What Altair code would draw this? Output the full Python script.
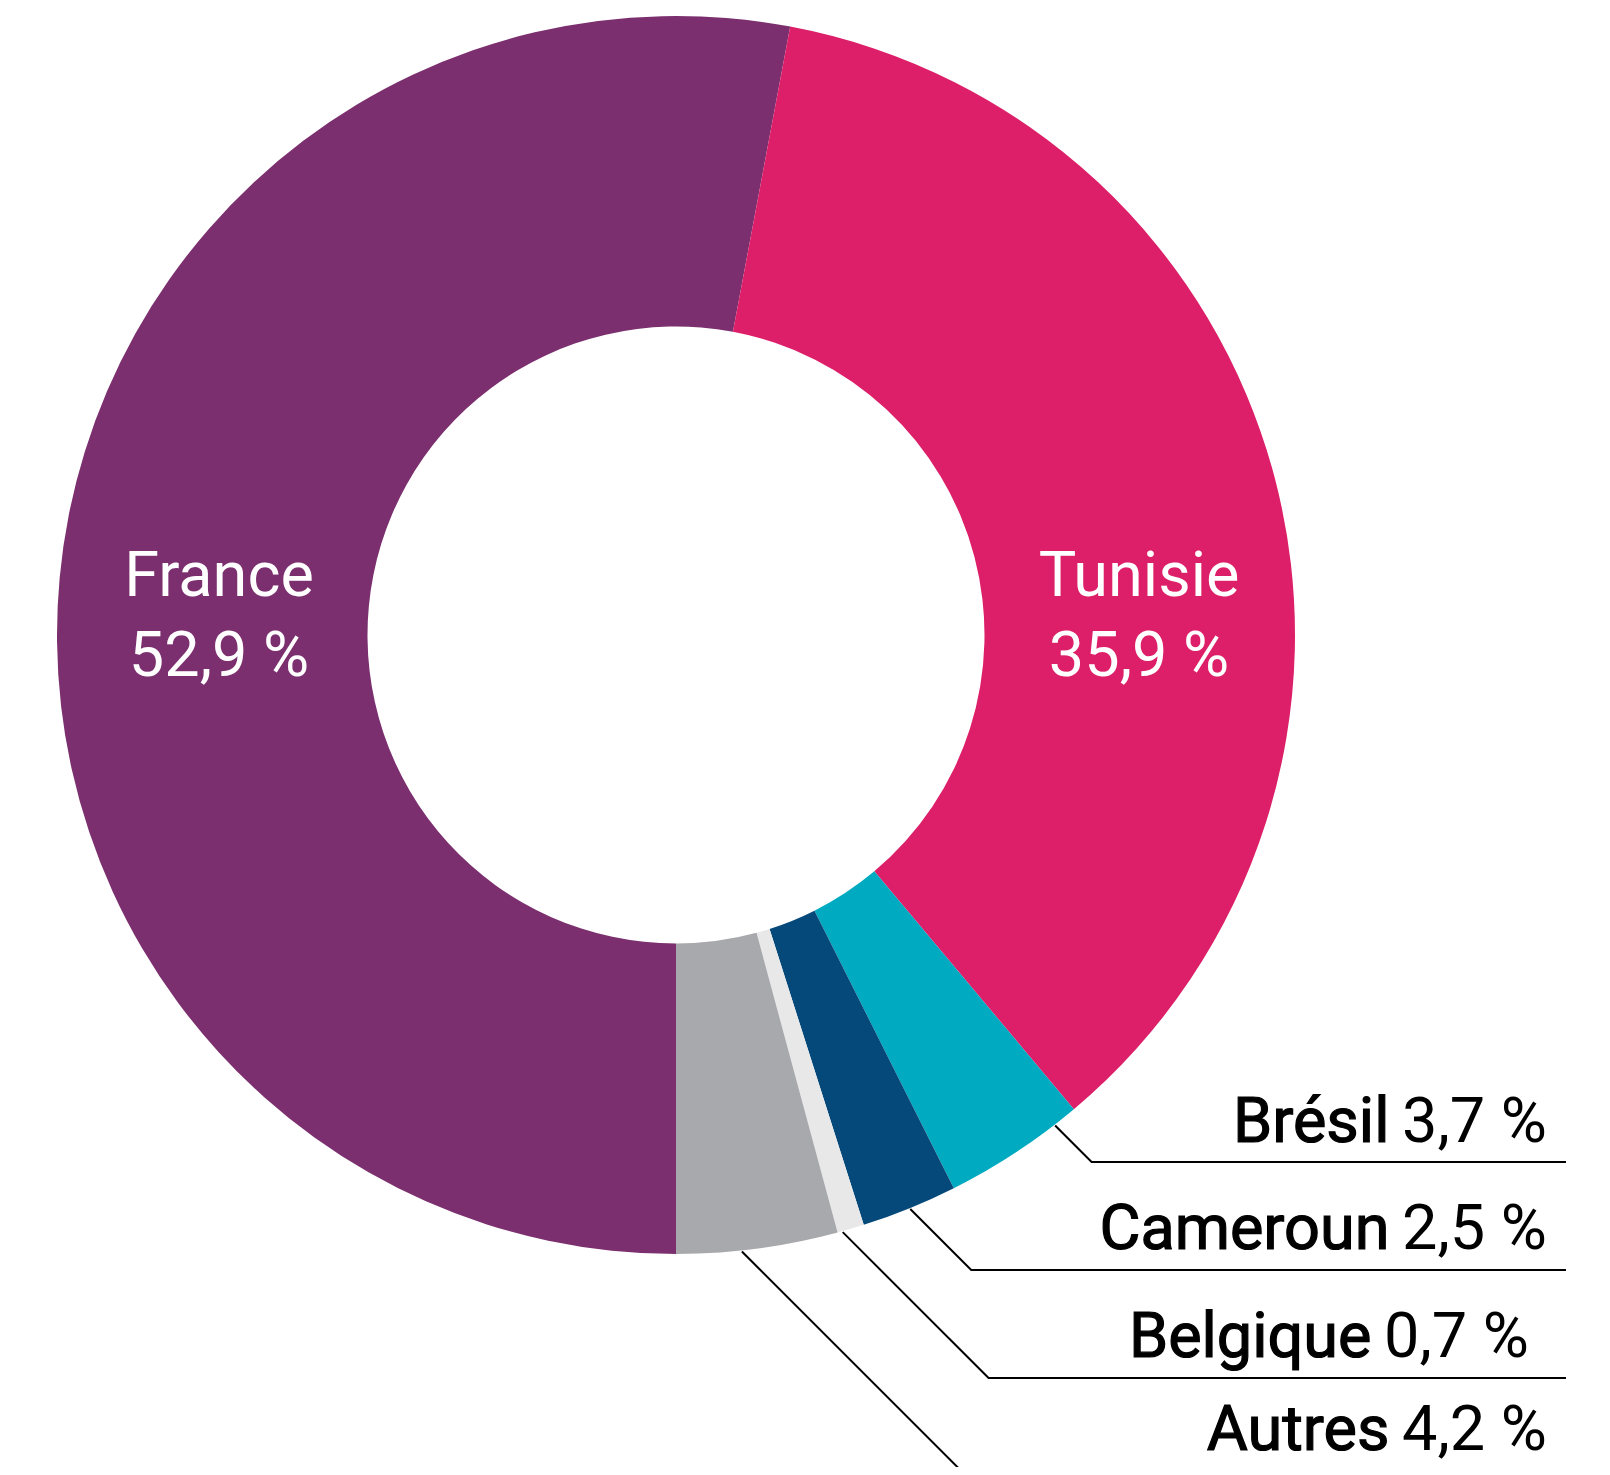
import math
import altair as alt
import pandas as pd

# ---- data ----
countries = ["France", "Tunisie", "Brésil", "Cameroun", "Belgique", "Autres"]
shares = [52.9, 35.9, 3.7, 2.5, 0.7, 4.2]
share_labels = ["52,9 %", "35,9 %", "3,7 %", "2,5 %", "0,7 %", "4,2 %"]
colors = ["#7B2F6E", "#DC1F68", "#00AAC0", "#05497A", "#E8E8E9", "#A8A9AD"]

# inside labels
inner_names = ["France", "Tunisie"]
inner_values = ["52,9 %", "35,9 %"]
inner_x = [219, 1139]

# outside labels (with leader lines)
outer_names = ["Brésil", "Cameroun", "Belgique", "Autres"]
outer_values = ["3,7 %", "2,5 %", "0,7 %", "4,2 %"]
outer_text_end = [1547, 1547, 1529, 1547]
outer_baseline = [1142, 1249, 1357, 1450]
outer_line_y = [1162, 1270, 1378, 1485]
leader_angle_deg = [142.3, 157.8, 164.4, 173.9]

# ---- layout constants ----
W, H = 1594, 1459
OFF = 8
CX, CY = 676, 635
R_OUT, R_IN = 619, 308.5
LINE_END = 1566
FS_IN = 63
FS_OUT = 63

xs = alt.Scale(domain=[OFF, OFF + W], range=[0, W], nice=False, zero=False)
ys = alt.Scale(domain=[OFF, OFF + H], range=[0, H], nice=False, zero=False)

arc_df = pd.DataFrame({
    "country": countries,
    "share": shares,
    "idx": list(range(len(countries))),
    "cx": [CX] * len(countries),
    "cy": [CY] * len(countries),
})

arc = alt.Chart(arc_df).mark_arc(radius=R_OUT, radius2=R_IN).encode(
    theta=alt.Theta("share:Q", stack=True,
                    scale=alt.Scale(range=[math.pi, 3 * math.pi])),
    color=alt.Color("country:N",
                    scale=alt.Scale(domain=countries, range=colors),
                    legend=None),
    order=alt.Order("idx:Q"),
    x=alt.X("cx:Q", scale=xs, axis=None),
    y=alt.Y("cy:Q", scale=ys, axis=None),
)

# inner labels
in_rows = []
for n, v, x in zip(inner_names, inner_values, inner_x):
    in_rows.append({"x": x, "y": 596, "t": n})
    in_rows.append({"x": x, "y": 676, "t": v})
in_df = pd.DataFrame(in_rows)
inner = alt.Chart(in_df).mark_text(
    color="white", font="Roboto", fontSize=FS_IN, align="center",
    baseline="alphabetic"
).encode(
    x=alt.X("x:Q", scale=xs, axis=None),
    y=alt.Y("y:Q", scale=ys, axis=None),
    text="t:N",
)

# leader lines
ln_rows = []
R_LEAD = 620
for name, a, ly in zip(outer_names, leader_angle_deg, outer_line_y):
    ar = math.radians(a)
    x0 = CX + R_LEAD * math.sin(ar)
    y0 = CY - R_LEAD * math.cos(ar)
    x1 = x0 + (ly - y0)
    ln_rows += [
        {"name": name, "k": 0, "x": x0, "y": y0},
        {"name": name, "k": 1, "x": x1, "y": ly},
        {"name": name, "k": 2, "x": LINE_END, "y": ly},
    ]
ln_df = pd.DataFrame(ln_rows)
lines = alt.Chart(ln_df).mark_line(color="black", strokeWidth=2, clip=True).encode(
    x=alt.X("x:Q", scale=xs, axis=None),
    y=alt.Y("y:Q", scale=ys, axis=None),
    detail="name:N",
    order=alt.Order("k:Q"),
)

# outer labels: value (regular) and name (slightly heavier)
out_df = pd.DataFrame({
    "name": outer_names,
    "value": outer_values,
    "xe": outer_text_end,
    "xn": [e - 2.5 * FS_OUT for e in outer_text_end],
    "y": outer_baseline,
})
out_val = alt.Chart(out_df).mark_text(
    color="black", font="Roboto", fontSize=FS_OUT, align="right",
    baseline="alphabetic"
).encode(
    x=alt.X("xe:Q", scale=xs, axis=None),
    y=alt.Y("y:Q", scale=ys, axis=None),
    text="value:N",
)
out_name = alt.Chart(out_df).mark_text(
    color="black", font="Roboto", fontSize=FS_OUT, stroke="black",
    strokeWidth=1.2, align="right", baseline="alphabetic"
).encode(
    x=alt.X("xn:Q", scale=xs, axis=None),
    y=alt.Y("y:Q", scale=ys, axis=None),
    text="name:N",
)

chart = alt.layer(arc, inner, lines, out_val, out_name).properties(
    width=W, height=H, padding=0, autosize="none"
).configure_view(stroke=None)

chart.save("out.html", embed_options={"renderer": "svg", "actions": False})
